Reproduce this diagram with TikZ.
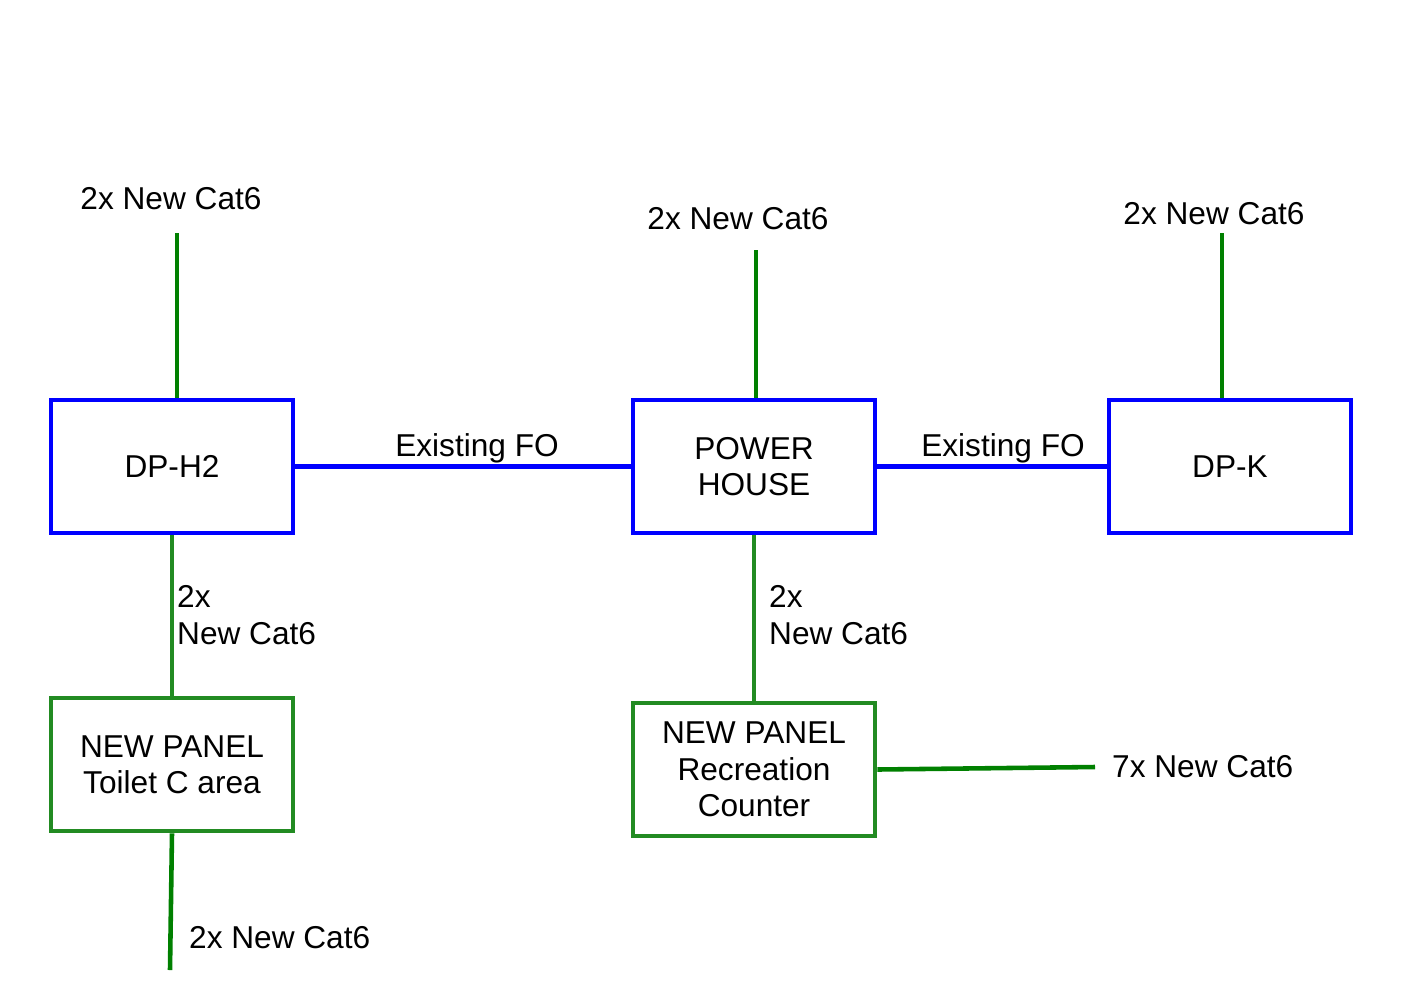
\documentclass[tikz,border=0pt]{standalone}
\usepackage{fontspec}
\setmainfont{Liberation Sans}
\usetikzlibrary{positioning}
\definecolor{boxblue}{HTML}{0000FF}
\definecolor{panelgreen}{HTML}{228B22}
\definecolor{cablegreen}{HTML}{008000}

\begin{document}
\begin{tikzpicture}[x=0.02cm,y=-0.02cm,
  dpbox/.style={draw=boxblue,line width=2.7pt,minimum width=4.84cm,minimum height=2.66cm,align=center,font=\fontsize{18}{20.7}\selectfont},
  panelbox/.style={dpbox,draw=panelgreen},
  fo/.style={boxblue,line width=2.6pt},
  cable/.style={cablegreen,line width=2.6pt},
  panel/.style={panelgreen,line width=2.6pt},
  lbl/.style={font=\fontsize{18}{20.7}\selectfont}]
\useasboundingbox (0,0) rectangle (1403,992);

% boxes
\node[dpbox] (dph2) at (172,466.5) {DP-H2};
\node[dpbox] (ph) at (754,466.5) {POWER\\HOUSE};
\node[dpbox] (dpk) at (1230,466.5) {DP-K};
\node[panelbox] (toilet) at (172,764.5) {NEW PANEL\\Toilet C area};
\node[panelbox] (recr) at (754,769.5) {NEW PANEL\\Recreation\\Counter};

% free cable ends
\coordinate (dph2top) at (177,233);
\coordinate (phtop) at (756,250);
\coordinate (dpktop) at (1222,233);
\coordinate (recrend) at (1095,767);
\coordinate (toiletend) at (170,970);

% links
\draw[fo] (dph2) -- (ph);
\draw[fo] (ph) -- (dpk);
\draw[cable] (dph2top) -- (dph2top |- dph2.north);
\draw[cable] (phtop) -- (phtop |- ph.north);
\draw[cable] (dpktop) -- (dpktop |- dpk.north);
\draw[panel] (dph2) -- (toilet);
\draw[panel] (ph) -- (recr);
\draw[cable] (recr.east) -- (recrend);
\draw[cable] (toilet.south) -- (toiletend);

% labels
\node[lbl] (cabA) at (171,199) {2x New Cat6};
\node[lbl] (cabB) at (738,219) {2x New Cat6};
\node[lbl] (cabC) at (1214,214) {2x New Cat6};
\node[lbl] (foA) at (477,448) {Existing FO};
\node[lbl] (foB) at (1003,448) {Existing FO};
\node[lbl,align=left,anchor=west] (cabD) at (171,615) {2x\\New Cat6};
\node[lbl,align=left,anchor=west] (cabE) at (763,615) {2x\\New Cat6};
\node[lbl,anchor=west] (cabF) at (1106,767) {7x New Cat6};
\node[lbl,anchor=west] (cabG) at (183,938) {2x New Cat6};
\end{tikzpicture}
\end{document}
